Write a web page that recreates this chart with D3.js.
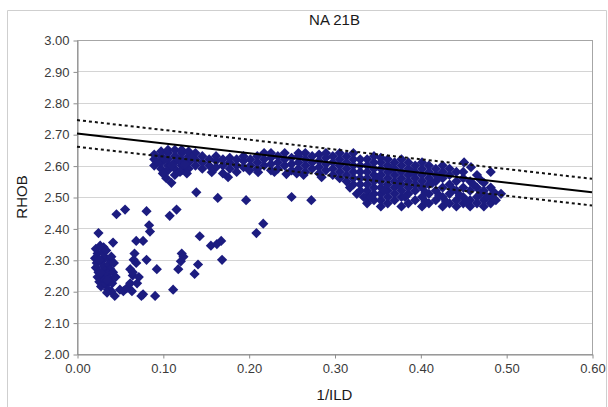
<!DOCTYPE html>
<html>
<head>
<meta charset="utf-8">
<script src="https://cdn.jsdelivr.net/npm/d3@7"></script>
<style>
  html, body { margin: 0; padding: 0; background: #fff; }
  svg { display: block; font-family: "Liberation Sans", Arial, sans-serif; }
</style>
</head>
<body>
<svg id="chart" width="608" height="407"></svg>
<script>
// Axis ticks
const xTicks = [0.0, 0.1, 0.2, 0.3, 0.4, 0.5, 0.6];
const yTicks = [2.0, 2.1, 2.2, 2.3, 2.4, 2.5, 2.6, 2.7, 2.8, 2.9, 3.0];

// Trend line and its upper / lower bounds: [1/ILD, RHOB]
const fitLine   = [[0.0, 2.702], [0.6, 2.515]];
const upperLine = [[0.0, 2.745], [0.6, 2.558]];
const lowerLine = [[0.0, 2.660], [0.6, 2.473]];

// Low-density samples at small 1/ILD
const lowCluster = [
  [0.025,2.385],[0.042,2.355],[0.046,2.445],[0.056,2.460],[0.081,2.455],[0.084,2.410],
  [0.085,2.390],[0.069,2.360],[0.077,2.360],[0.067,2.320],[0.066,2.300],[0.081,2.300],
  [0.093,2.270],[0.112,2.205],[0.091,2.185],[0.077,2.190],[0.044,2.185],[0.050,2.205],
  [0.054,2.200],[0.058,2.210],[0.062,2.225],[0.064,2.200],[0.075,2.185],[0.065,2.250],
  [0.062,2.270],[0.065,2.260],[0.069,2.290],[0.072,2.245],[0.070,2.225],
  [0.022,2.335],[0.024,2.320],[0.021,2.305],[0.023,2.290],[0.022,2.275],[0.025,2.260],
  [0.024,2.245],[0.026,2.230],[0.028,2.215],[0.031,2.340],[0.030,2.325],[0.032,2.310],
  [0.029,2.295],[0.031,2.280],[0.033,2.265],[0.030,2.250],[0.032,2.235],[0.034,2.220],
  [0.036,2.205],[0.038,2.300],[0.037,2.285],[0.039,2.270],[0.036,2.255],[0.038,2.240],
  [0.041,2.225],[0.040,2.310],[0.043,2.290],[0.042,2.260],[0.045,2.245],[0.040,2.200],
  [0.035,2.195],[0.027,2.345],[0.034,2.330],[0.026,2.300],[0.035,2.235],[0.028,2.260]
];

// Isolated samples between the two groups
const scattered = [
  [0.108,2.440],[0.116,2.460],[0.122,2.320],[0.124,2.310],[0.121,2.295],[0.118,2.270],
  [0.139,2.515],[0.143,2.375],[0.141,2.285],[0.137,2.255],[0.156,2.345],[0.163,2.350],
  [0.168,2.360],[0.169,2.300],[0.164,2.497],[0.197,2.490],[0.209,2.385],[0.217,2.415],
  [0.250,2.500],[0.273,2.490]
];

// Main trend band, 1/ILD 0.09 - 0.26
const bandLeft = [
  [0.090,2.600],[0.090,2.620],[0.090,2.635],
  [0.098,2.590],[0.098,2.610],[0.098,2.630],[0.098,2.645],
  [0.106,2.585],[0.106,2.600],[0.106,2.620],[0.106,2.640],[0.106,2.650],
  [0.114,2.590],[0.114,2.610],[0.114,2.630],[0.114,2.650],
  [0.122,2.585],[0.122,2.600],[0.122,2.620],[0.122,2.640],[0.122,2.650],
  [0.130,2.590],[0.130,2.610],[0.130,2.630],[0.130,2.645],
  [0.138,2.600],[0.138,2.620],[0.138,2.640],
  [0.146,2.590],[0.146,2.610],[0.146,2.630],
  [0.094,2.610],[0.102,2.620],[0.110,2.600],[0.118,2.620],[0.126,2.605],[0.134,2.625],
  [0.104,2.560],[0.110,2.545],[0.114,2.570],[0.120,2.580],[0.128,2.575],[0.100,2.575],
  [0.154,2.600],[0.154,2.620],
  [0.162,2.595],[0.162,2.615],[0.162,2.630],
  [0.170,2.600],[0.170,2.620],
  [0.178,2.590],[0.178,2.610],[0.178,2.625],
  [0.186,2.600],[0.186,2.620],
  [0.194,2.595],[0.194,2.615],[0.194,2.630],
  [0.202,2.600],[0.202,2.620],
  [0.210,2.590],[0.210,2.610],[0.210,2.630],
  [0.218,2.600],[0.218,2.620],[0.218,2.640],
  [0.226,2.585],[0.226,2.605],[0.226,2.625],[0.226,2.640],
  [0.234,2.590],[0.234,2.610],[0.234,2.630],
  [0.242,2.600],[0.242,2.620],[0.242,2.640],
  [0.250,2.585],[0.250,2.605],[0.250,2.625],
  [0.258,2.590],[0.258,2.610],[0.258,2.630],[0.258,2.640],
  [0.157,2.579],[0.176,2.563],[0.170,2.575],[0.201,2.584],[0.211,2.579],[0.186,2.580],
  [0.230,2.580],[0.244,2.573],[0.256,2.575],[0.264,2.570]
];

// Main trend band, 1/ILD 0.26 - 0.40
const bandMid = [
  [0.266,2.580],[0.266,2.600],[0.266,2.620],[0.266,2.640],
  [0.274,2.590],[0.274,2.610],[0.274,2.630],
  [0.282,2.575],[0.282,2.595],[0.282,2.615],[0.282,2.635],
  [0.290,2.585],[0.290,2.605],[0.290,2.625],[0.290,2.640],
  [0.298,2.570],[0.298,2.590],[0.298,2.610],[0.298,2.630],
  [0.306,2.560],[0.306,2.580],[0.306,2.600],[0.306,2.620],[0.306,2.640],
  [0.314,2.550],[0.314,2.570],[0.314,2.590],[0.314,2.610],[0.314,2.630],
  [0.322,2.540],[0.322,2.560],[0.322,2.580],[0.322,2.600],[0.322,2.620],[0.322,2.640],
  [0.330,2.520],[0.330,2.540],[0.330,2.560],[0.330,2.580],[0.330,2.600],[0.330,2.620],
  [0.285,2.563],[0.318,2.530],[0.326,2.510],[0.334,2.500],
  [0.338,2.480],[0.338,2.500],[0.338,2.520],[0.338,2.540],[0.338,2.560],[0.338,2.580],[0.338,2.600],[0.338,2.620],
  [0.346,2.490],[0.346,2.510],[0.346,2.530],[0.346,2.550],[0.346,2.570],[0.346,2.590],[0.346,2.610],[0.346,2.630],
  [0.354,2.470],[0.354,2.490],[0.354,2.510],[0.354,2.530],[0.354,2.550],[0.354,2.570],[0.354,2.590],[0.354,2.610],[0.354,2.625],
  [0.362,2.480],[0.362,2.500],[0.362,2.520],[0.362,2.540],[0.362,2.560],[0.362,2.580],[0.362,2.600],[0.362,2.620],
  [0.370,2.490],[0.370,2.510],[0.370,2.530],[0.370,2.550],[0.370,2.570],[0.370,2.590],[0.370,2.610],
  [0.378,2.470],[0.378,2.500],[0.378,2.520],[0.378,2.540],[0.378,2.560],[0.378,2.580],[0.378,2.600],[0.378,2.620],
  [0.386,2.480],[0.386,2.510],[0.386,2.530],[0.386,2.550],[0.386,2.570],[0.386,2.590],[0.386,2.610],
  [0.394,2.490],[0.394,2.520],[0.394,2.540],[0.394,2.560],[0.394,2.580],[0.394,2.600],
  [0.342,2.500],[0.350,2.560],[0.358,2.520],[0.366,2.590],[0.374,2.540],[0.382,2.500],[0.390,2.580]
];

// Main trend band, 1/ILD 0.40 - 0.49
const bandRight = [
  [0.402,2.470],[0.402,2.500],[0.402,2.530],[0.402,2.550],[0.402,2.570],[0.402,2.590],[0.402,2.610],
  [0.410,2.480],[0.410,2.510],[0.410,2.540],[0.410,2.560],[0.410,2.580],[0.410,2.600],
  [0.418,2.490],[0.418,2.520],[0.418,2.550],[0.418,2.570],[0.418,2.590],
  [0.426,2.470],[0.426,2.500],[0.426,2.530],[0.426,2.560],[0.426,2.580],[0.426,2.600],
  [0.434,2.480],[0.434,2.510],[0.434,2.540],[0.434,2.570],[0.434,2.590],
  [0.442,2.470],[0.442,2.490],[0.442,2.520],[0.442,2.550],[0.442,2.580],
  [0.450,2.480],[0.450,2.500],[0.450,2.530],[0.450,2.560],[0.450,2.580],[0.451,2.610],
  [0.458,2.470],[0.458,2.490],[0.458,2.520],[0.458,2.550],[0.459,2.595],
  [0.466,2.480],[0.466,2.500],[0.466,2.530],[0.466,2.570],
  [0.474,2.470],[0.474,2.490],[0.474,2.520],[0.474,2.545],
  [0.482,2.480],[0.482,2.500],[0.482,2.530],[0.482,2.580],
  [0.488,2.490],[0.494,2.510],
  [0.406,2.485],[0.406,2.515],[0.414,2.545],[0.422,2.505],[0.422,2.565],[0.430,2.485],
  [0.438,2.525],[0.446,2.505],[0.454,2.485],[0.462,2.540],[0.470,2.510],[0.478,2.500],
  [0.486,2.515],[0.470,2.555]
];

const samples = [...lowCluster, ...scattered, ...bandLeft, ...bandMid, ...bandRight];

const W = 608, H = 407;
const plot = { left: 77, right: 592, top: 40, bottom: 354 };

const svg = d3.select("#chart");

const x = d3.scaleLinear().domain([0, 0.6]).range([plot.left, plot.right]);
const y = d3.scaleLinear().domain([2.0, 3.0]).range([plot.bottom, plot.top]);

// Outer chart frame
svg.append("path")
  .attr("d", `M7.5,${H + 2}V10.5H606.5V${H + 2}`)
  .attr("fill", "none")
  .attr("stroke", "#cfcfcf")
  .attr("stroke-width", 1);

// Horizontal gridlines
svg.append("g")
  .selectAll("line")
  .data(yTicks.filter(t => t > 2.0 && t < 3.0))
  .join("line")
  .attr("x1", plot.left).attr("x2", plot.right)
  .attr("y1", d => Math.round(y(d)) + 0.5).attr("y2", d => Math.round(y(d)) + 0.5)
  .attr("stroke", "#d4d4d4")
  .attr("stroke-width", 1);

// Plot-area border
svg.append("rect")
  .attr("x", plot.left + 0.5).attr("y", plot.top + 0.5)
  .attr("width", plot.right - plot.left).attr("height", plot.bottom - plot.top)
  .attr("fill", "none")
  .attr("stroke", "#a6a6a6")
  .attr("stroke-width", 1);

// Axes
const xAxis = svg.append("g")
  .attr("transform", `translate(0.5,${plot.bottom + 0.5})`)
  .call(d3.axisBottom(x).tickValues(xTicks).tickFormat(d3.format(".2f")).tickSizeInner(4).tickSizeOuter(0).tickPadding(5));
const yAxis = svg.append("g")
  .attr("transform", `translate(${plot.left + 0.5},0.5)`)
  .call(d3.axisLeft(y).tickValues(yTicks).tickFormat(d3.format(".2f")).tickSizeInner(4).tickSizeOuter(0).tickPadding(4));

[xAxis, yAxis].forEach(g => {
  g.select(".domain").attr("stroke", "#8c8c8c");
  g.selectAll(".tick line").attr("stroke", "#8c8c8c");
  g.selectAll(".tick text")
    .attr("fill", "#3a3a3a")
    .style("font-size", "13px")
    .style("font-family", "'Liberation Sans', Arial, sans-serif");
});

// Data markers (diamonds)
const r = 5.1;
const diamond = `M0,${-r}L${r},0L0,${r}L${-r},0Z`;
svg.append("g")
  .selectAll("path")
  .data(samples)
  .join("path")
  .attr("d", diamond)
  .attr("transform", d => `translate(${x(d[0])},${y(d[1])})`)
  .attr("fill", "#1c1c80");

// Trend line and bounds
const line = d3.line().x(d => x(d[0])).y(d => y(d[1]));
svg.append("path").datum(upperLine).attr("d", line)
  .attr("fill", "none").attr("stroke", "#111").attr("stroke-width", 2).attr("stroke-dasharray", "3,3");
svg.append("path").datum(lowerLine).attr("d", line)
  .attr("fill", "none").attr("stroke", "#111").attr("stroke-width", 2).attr("stroke-dasharray", "3,3");
svg.append("path").datum(fitLine).attr("d", line)
  .attr("fill", "none").attr("stroke", "#000").attr("stroke-width", 2);

// Titles
svg.append("text")
  .attr("x", (plot.left + plot.right) / 2).attr("y", 25)
  .attr("text-anchor", "middle")
  .attr("fill", "#1a1a1a")
  .style("font-size", "15px")
  .text("NA 21B");

svg.append("text")
  .attr("x", (plot.left + plot.right) / 2).attr("y", 400)
  .attr("text-anchor", "middle")
  .attr("fill", "#1a1a1a")
  .style("font-size", "15px")
  .text("1/ILD");

svg.append("text")
  .attr("transform", `translate(27,${(plot.top + plot.bottom) / 2}) rotate(-90)`)
  .attr("text-anchor", "middle")
  .attr("fill", "#1a1a1a")
  .style("font-size", "15px")
  .text("RHOB");
</script>
</body>
</html>
